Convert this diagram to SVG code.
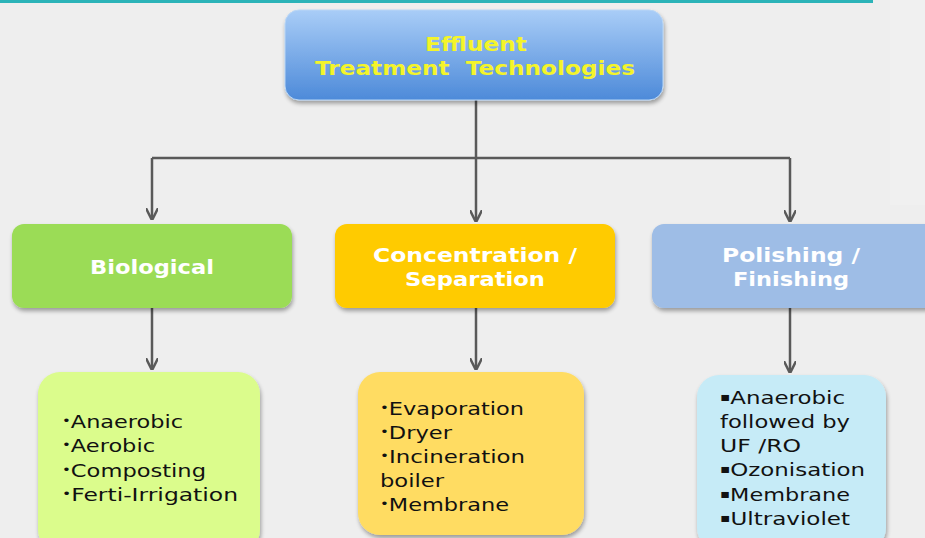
<svg xmlns="http://www.w3.org/2000/svg" width="925" height="538" viewBox="0 0 925 538">
<defs>
<linearGradient id="gTop" x1="0" y1="0" x2="0" y2="1">
<stop offset="0" stop-color="#a9cdf7"/>
<stop offset="1" stop-color="#4d8ad9"/>
</linearGradient>
<filter id="sh" x="-10%" y="-10%" width="120%" height="130%">
<feGaussianBlur in="SourceAlpha" stdDeviation="2"/>
<feOffset dx="1" dy="3" result="b"/>
<feComponentTransfer><feFuncA type="linear" slope="0.35"/></feComponentTransfer>
<feMerge><feMergeNode/><feMergeNode in="SourceGraphic"/></feMerge>
</filter>
<marker id="ah" viewBox="0 0 10 10" refX="9" refY="5" markerWidth="5" markerHeight="5" orient="auto" markerUnits="strokeWidth">
<path d="M0,0 L10,5 L0,10" fill="none" stroke="#595959" stroke-width="2"/>
</marker>
<style>
.hd{font-family:"DejaVu Sans",Verdana,sans-serif;font-weight:bold;text-anchor:middle;font-size:19px}
.lst{font-family:"DejaVu Sans",Verdana,sans-serif;font-size:18px;fill:#111}
.b{font-size:12px;baseline-shift:3px}
.cn{stroke:#595959;stroke-width:2.5;fill:none}
</style>
</defs>
<rect width="925" height="538" fill="#eeeeee"/>
<rect x="890" y="0" width="35" height="205" fill="#f0f0f0"/>
<rect x="0" y="0" width="873" height="3" fill="#2bb3b8"/>
<g id="connectors">
<path class="cn" d="M476,100 V158 M152,158 H790"/>
<path class="cn" d="M152,158 V219" marker-end="url(#ah)"/>
<path class="cn" d="M476,158 V221" marker-end="url(#ah)"/>
<path class="cn" d="M790,158 V221" marker-end="url(#ah)"/>
<path class="cn" d="M152,308 V369" marker-end="url(#ah)"/>
<path class="cn" d="M476,308 V369" marker-end="url(#ah)"/>
<path class="cn" d="M790,308 V372" marker-end="url(#ah)"/>
</g>
<g id="top">
<rect x="285" y="10" width="378" height="90" rx="14" fill="url(#gTop)" stroke="#b9d6f5" stroke-width="1" filter="url(#sh)"/>
<g transform="scale(1.25,1)">
<text class="hd" x="380.8" y="51" fill="#f4f42a" textLength="81.6" lengthAdjust="spacingAndGlyphs">Effluent</text>
<text class="hd" x="380" y="75" fill="#f4f42a" xml:space="preserve" textLength="256" lengthAdjust="spacingAndGlyphs">Treatment  Technologies</text>
</g>
</g>
<g id="biological">
<rect x="12" y="224" width="280" height="84" rx="12" fill="#9bdc57" filter="url(#sh)"/>
<text class="hd" transform="scale(1.25,1)" x="121.6" y="274" fill="#fff" textLength="99.2" lengthAdjust="spacingAndGlyphs">Biological</text>
</g>
<g id="concentration">
<rect x="335" y="224" width="280" height="84" rx="12" fill="#ffcb05" filter="url(#sh)"/>
<g transform="scale(1.25,1)">
<text class="hd" x="380" y="262" fill="#fff" textLength="163.2" lengthAdjust="spacingAndGlyphs">Concentration /</text>
<text class="hd" x="380" y="286" fill="#fff" textLength="112" lengthAdjust="spacingAndGlyphs">Separation</text>
</g>
</g>
<g id="polishing">
<rect x="652" y="224" width="290" height="84" rx="12" fill="#9ebde6" filter="url(#sh)"/>
<g transform="scale(1.25,1)">
<text class="hd" x="632.8" y="262" fill="#fff" textLength="110.4" lengthAdjust="spacingAndGlyphs">Polishing /</text>
<text class="hd" x="632.8" y="286" fill="#fff" textLength="92.8" lengthAdjust="spacingAndGlyphs">Finishing</text>
</g>
</g>
<g id="bio-list">
<rect x="38" y="372" width="222" height="180" rx="22" fill="#dbfc8c" filter="url(#sh)"/>
<g transform="scale(1.25,1)">
<text class="lst" x="49.6" y="428" textLength="96.8" lengthAdjust="spacingAndGlyphs"><tspan class="b">•</tspan>Anaerobic</text>
<text class="lst" x="49.6" y="452" textLength="74.4" lengthAdjust="spacingAndGlyphs"><tspan class="b">•</tspan>Aerobic</text>
<text class="lst" x="49.6" y="477" textLength="115.2" lengthAdjust="spacingAndGlyphs"><tspan class="b">•</tspan>Composting</text>
<text class="lst" x="49.6" y="501" textLength="140.8" lengthAdjust="spacingAndGlyphs"><tspan class="b">•</tspan>Ferti-Irrigation</text>
</g>
</g>
<g id="conc-list">
<rect x="358" y="372" width="226" height="163" rx="22" fill="#ffdc62" filter="url(#sh)"/>
<g transform="scale(1.25,1)">
<text class="lst" x="304" y="415" textLength="115.2" lengthAdjust="spacingAndGlyphs"><tspan class="b">•</tspan>Evaporation</text>
<text class="lst" x="304" y="439" textLength="57.6" lengthAdjust="spacingAndGlyphs"><tspan class="b">•</tspan>Dryer</text>
<text class="lst" x="304" y="463" textLength="116" lengthAdjust="spacingAndGlyphs"><tspan class="b">•</tspan>Incineration</text>
<text class="lst" x="304" y="487" textLength="51.2" lengthAdjust="spacingAndGlyphs">boiler</text>
<text class="lst" x="304" y="511" textLength="103.2" lengthAdjust="spacingAndGlyphs"><tspan class="b">•</tspan>Membrane</text>
</g>
</g>
<g id="pol-list">
<rect x="697" y="375" width="189" height="175" rx="22" fill="#c6ebf7" filter="url(#sh)"/>
<g transform="scale(1.25,1)">
<text class="lst" x="576" y="404" textLength="100" lengthAdjust="spacingAndGlyphs"><tspan class="b">▪</tspan>Anaerobic</text>
<text class="lst" x="576" y="428" textLength="104" lengthAdjust="spacingAndGlyphs">followed by</text>
<text class="lst" x="576" y="452" textLength="64.8" lengthAdjust="spacingAndGlyphs">UF /RO</text>
<text class="lst" x="576" y="476" textLength="116" lengthAdjust="spacingAndGlyphs"><tspan class="b">▪</tspan>Ozonisation</text>
<text class="lst" x="576" y="501" textLength="104" lengthAdjust="spacingAndGlyphs"><tspan class="b">▪</tspan>Membrane</text>
<text class="lst" x="576" y="525" textLength="104" lengthAdjust="spacingAndGlyphs"><tspan class="b">▪</tspan>Ultraviolet</text>
</g>
</g>
</svg>
